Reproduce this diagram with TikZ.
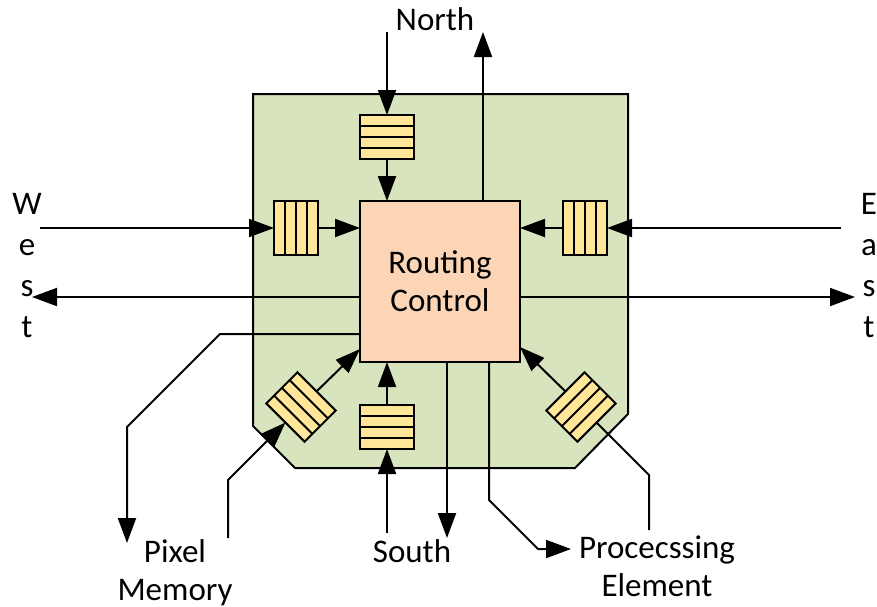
\documentclass[tikz,border=0pt]{standalone}
\usepackage{fontspec}
\setmainfont{Carlito}
\usetikzlibrary{arrows.meta,calc}
\definecolor{boardgreen}{HTML}{D7E4BD}
\definecolor{rcpeach}{HTML}{FBD5B5}
\definecolor{fifoyellow}{HTML}{FFE699}
\begin{document}
\begin{tikzpicture}[x=1pt,y=-1pt,
  line width=2pt,
  conn/.style={line width=2pt},
  arr/.style={conn,-{Triangle[length=25pt,width=18pt]}},
  fifo/.style={draw,fill=fifoyellow,line width=2pt,minimum width=54pt,minimum height=44pt,inner sep=0pt,outer sep=0pt},
  lbl/.style={font=\fontsize{33}{38}\selectfont,align=center,inner sep=0pt},
  lblv/.style={font=\fontsize{33}{41.3}\selectfont,align=center,inner sep=0pt,anchor=north},
]
\useasboundingbox (0,0) rectangle (877,606);
% board
\draw[fill=boardgreen,line width=2pt] (253,94) -- (628,94) -- (628,414) -- (575,468) -- (295,468) -- (253,426) -- cycle;
% routing control
\node[draw,fill=rcpeach,line width=2pt,minimum width=160pt,minimum height=161pt,inner sep=0pt,outer sep=0pt] (rc) at (440,281.5) {};
\node[lbl,anchor=north] (rctext) at (440,245.4) {\strut Routing\\\strut Control};
% fifos
\node[fifo] (nf) at (387,137) {};
\node[fifo,rotate=180] (sf) at (387,427) {};
\node[fifo,rotate=90] (wf) at (296,228) {};
\node[fifo,rotate=-90] (ef) at (585,228) {};
\node[fifo,rotate=135] (swf) at (301,407) {};
\node[fifo,rotate=-135] (sef) at (581,407) {};
\foreach \n in {nf,sf,wf,ef,swf,sef}{
  \foreach \t in {0.25,0.5,0.75}{
    \draw[line width=2pt] ($(\n.north west)!\t!(\n.south west)$) -- ($(\n.north east)!\t!(\n.south east)$);
  }
}
% labels
\node[lbl,anchor=base] (north) at (435,30) {North};
\node[lbl,anchor=base] (south) at (412,562) {South};
\node[lblv] (west) at (27,184.1) {\strut W\\\strut e\\\strut s\\\strut t};
\node[lblv] (east) at (869,184.1) {\strut E\\\strut a\\\strut s\\\strut t};
\node[lbl,anchor=north] (pm) at (175,534.4) {\strut Pixel\\\strut Memory};
\node[lbl,anchor=north] (pe) at (657,530.4) {\strut Procecssing\\\strut Element};
% free ends
\coordinate (nin) at (387,32);
\coordinate (nout) at (483,32);
\coordinate (win) at (40,228);
\coordinate (wout) at (32,297);
\coordinate (ein) at (841,228);
\coordinate (eout) at (855,297);
\coordinate (sin) at (387,533);
\coordinate (sout) at (447,538);
\coordinate (swtip) at (360,349);
\coordinate (setip) at (520,347);
\coordinate (pmin) at (228,538);
\coordinate (pmbend) at (228,480);
\coordinate (pmo1) at (220,334);
\coordinate (pmo2) at (127,427);
\coordinate (pmo3) at (127,543);
\coordinate (pein) at (649,530);
\coordinate (pebend) at (649,475);
\coordinate (peo1) at (489,500);
\coordinate (peo2) at (538,549);
\coordinate (peo3) at (571,549);
% connectors
\draw[arr] (nin) -- (nf.north);
\draw[arr] (nf.south) -- (rc.north -| nf.south);
\draw[arr] (rc.north -| nout) -- (nout);
\draw[arr] (win) -- (wf.north);
\draw[arr] (wf.south) -- (rc.west |- wf.south);
\draw[arr] (rc.west |- wout) -- (wout);
\draw[arr] (ein) -- (ef.north);
\draw[arr] (ef.south) -- (rc.east |- ef.south);
\draw[arr] (rc.east |- eout) -- (eout);
\draw[arr] (sin) -- (sf.north);
\draw[arr] (sf.south) -- (rc.south -| sf.south);
\draw[arr] (rc.south -| sout) -- (sout);
\draw[arr] (swf.south) -- (swtip);
\draw[arr] (pmin) -- (pmbend) -- (swf.north);
\draw[arr] (rc.west |- pmo1) -- (pmo1) -- (pmo2) -- (pmo3);
\draw[arr] (sef.south) -- (setip);
\draw[conn] (pein) -- (pebend) -- (sef.north);
\draw[arr] (rc.south -| peo1) -- (peo1) -- (peo2) -- (peo3);
\end{tikzpicture}
\end{document}
